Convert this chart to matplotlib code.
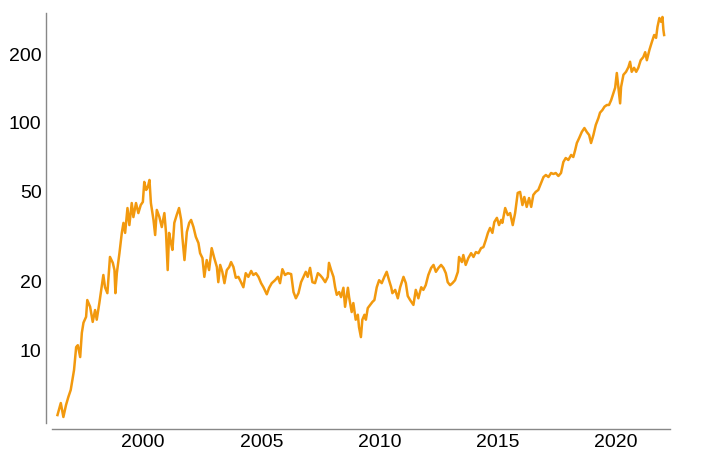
import matplotlib
matplotlib.use("Agg")
import matplotlib.pyplot as plt
from matplotlib.ticker import FixedLocator, FixedFormatter, NullLocator

plt.rcParams['font.family'] = ['Liberation Sans', 'DejaVu Sans']

years = [
    1996.38, 1996.52, 1996.63, 1996.74, 1996.84, 1996.94, 1997.03, 1997.08, 1997.17, 1997.24,
    1997.34, 1997.41, 1997.48, 1997.59, 1997.64, 1997.76, 1997.87, 1997.97, 1998.04, 1998.15,
    1998.21, 1998.32, 1998.39, 1998.49, 1998.60, 1998.72, 1998.79, 1998.83, 1998.89, 1999.00,
    1999.10, 1999.17, 1999.24, 1999.34, 1999.42, 1999.52, 1999.59, 1999.70, 1999.80, 1999.90,
    1999.99, 2000.05, 2000.13, 2000.20, 2000.27, 2000.33, 2000.44, 2000.51, 2000.58, 2000.69,
    2000.79, 2000.90, 2000.97, 2001.04, 2001.10, 2001.18, 2001.24, 2001.32, 2001.42, 2001.52,
    2001.61, 2001.66, 2001.75, 2001.85, 2001.95, 2002.03, 2002.13, 2002.23, 2002.34, 2002.41,
    2002.51, 2002.59, 2002.69, 2002.79, 2002.90, 2003.01, 2003.12, 2003.18, 2003.26, 2003.35,
    2003.44, 2003.54, 2003.64, 2003.72, 2003.82, 2003.92, 2004.03, 2004.14, 2004.24, 2004.34,
    2004.45, 2004.57, 2004.66, 2004.77, 2004.88, 2004.99, 2005.09, 2005.23, 2005.33, 2005.44,
    2005.58, 2005.70, 2005.79, 2005.89, 2006.00, 2006.12, 2006.26, 2006.36, 2006.46, 2006.57,
    2006.68, 2006.78, 2006.88, 2006.96, 2007.06, 2007.16, 2007.27, 2007.39, 2007.48, 2007.58,
    2007.70, 2007.81, 2007.86, 2007.95, 2008.05, 2008.12, 2008.19, 2008.29, 2008.37, 2008.47,
    2008.54, 2008.66, 2008.71, 2008.82, 2008.89, 2008.99, 2009.08, 2009.13, 2009.21, 2009.27,
    2009.36, 2009.42, 2009.50, 2009.60, 2009.70, 2009.78, 2009.88, 2009.98, 2010.09, 2010.20,
    2010.30, 2010.40, 2010.49, 2010.54, 2010.66, 2010.77, 2010.87, 2011.01, 2011.11, 2011.19,
    2011.29, 2011.43, 2011.53, 2011.64, 2011.76, 2011.85, 2011.95, 2012.06, 2012.18, 2012.28,
    2012.38, 2012.49, 2012.60, 2012.70, 2012.80, 2012.88, 2012.98, 2013.08, 2013.19, 2013.31,
    2013.36, 2013.48, 2013.54, 2013.64, 2013.75, 2013.87, 2013.97, 2014.07, 2014.18, 2014.29,
    2014.39, 2014.49, 2014.58, 2014.67, 2014.77, 2014.85, 2014.96, 2015.05, 2015.14, 2015.19,
    2015.31, 2015.42, 2015.52, 2015.63, 2015.73, 2015.84, 2015.94, 2016.04, 2016.12, 2016.22,
    2016.32, 2016.41, 2016.50, 2016.60, 2016.71, 2016.83, 2016.93, 2017.03, 2017.14, 2017.25,
    2017.35, 2017.45, 2017.56, 2017.67, 2017.77, 2017.87, 2017.98, 2018.10, 2018.19, 2018.27,
    2018.34, 2018.44, 2018.55, 2018.66, 2018.76, 2018.86, 2018.94, 2019.04, 2019.14, 2019.25,
    2019.32, 2019.42, 2019.51, 2019.61, 2019.70, 2019.79, 2019.89, 2019.96, 2020.03, 2020.10,
    2020.17, 2020.21, 2020.31, 2020.42, 2020.52, 2020.59, 2020.66, 2020.76, 2020.85, 2020.94,
    2021.04, 2021.15, 2021.23, 2021.30, 2021.41, 2021.51, 2021.61, 2021.69, 2021.75, 2021.83,
    2021.90, 2021.96, 2022.00, 2022.03,
]

price = [
    5.17, 5.84, 5.07, 5.72, 6.21, 6.67, 7.60, 8.16, 10.3, 10.5,
    9.31, 11.9, 13.2, 14.0, 16.6, 15.5, 13.3, 15.0, 13.6, 16.1,
    17.8, 21.4, 18.9, 17.8, 25.7, 24.2, 22.5, 17.8, 21.8, 26.7,
    32.8, 36.3, 32.8, 42.2, 35.5, 44.4, 38.5, 44.4, 40.1, 43.5,
    44.9, 55.0, 50.7, 52.2, 56.1, 44.4, 37.4, 32.1, 41.4, 38.5,
    34.8, 40.1, 32.8, 22.5, 32.8, 29.6, 27.6, 36.3, 39.3, 42.2,
    37.4, 31.5, 24.9, 33.1, 36.3, 37.4, 34.8, 31.5, 29.6, 26.7,
    25.4, 21.0, 24.9, 22.5, 28.1, 25.4, 23.2, 19.9, 23.7, 22.1,
    19.7, 22.5, 23.2, 24.4, 23.2, 20.8, 21.0, 19.9, 18.9, 21.8,
    21.0, 22.3, 21.4, 21.8, 21.0, 19.7, 18.9, 17.6, 18.8, 19.7,
    20.3, 21.0, 19.7, 22.7, 21.4, 21.8, 21.6, 18.0, 16.9, 17.8,
    19.9, 21.0, 22.1, 21.0, 23.0, 19.9, 19.7, 21.8, 21.4, 20.8,
    19.9, 21.0, 24.2, 22.5, 21.0, 18.9, 17.5, 18.0, 17.1, 18.8,
    15.5, 18.8, 17.1, 14.7, 16.1, 13.6, 14.3, 12.6, 11.4, 13.6,
    14.3, 13.6, 15.3, 15.8, 16.3, 16.6, 18.9, 20.3, 19.7, 21.0,
    22.1, 20.3, 18.9, 17.8, 18.4, 16.9, 18.9, 21.0, 19.7, 17.3,
    16.6, 15.8, 18.4, 16.9, 18.9, 18.4, 19.3, 21.4, 23.0, 23.7,
    22.1, 23.0, 23.7, 23.0, 21.8, 19.9, 19.3, 19.7, 20.3, 22.1,
    25.7, 24.4, 26.2, 23.7, 25.4, 26.7, 25.7, 27.0, 26.7, 28.1,
    28.4, 30.5, 32.8, 34.5, 32.8, 36.6, 38.2, 35.5, 37.4, 36.3,
    42.2, 39.3, 40.1, 35.5, 40.1, 49.2, 49.7, 43.5, 47.2, 42.7,
    46.7, 42.7, 48.2, 49.7, 50.7, 54.4, 57.8, 59.0, 57.8, 60.2,
    59.6, 60.2, 58.4, 60.2, 67.3, 70.1, 68.7, 72.3, 70.8, 76.0,
    81.6, 85.9, 91.3, 95.0, 91.3, 88.5, 81.6, 88.5, 98.0, 105,
    111, 114, 118, 120, 120, 126, 136, 143, 166, 143,
    122, 144, 163, 168, 176, 186, 168, 175, 168, 175,
    189, 195, 205, 189, 210, 227, 244, 237, 265, 290,
    279, 293, 257, 244,
]

x_ticks = [2000, 2005, 2010, 2015, 2020]
x_labels = ["2000", "2005", "2010", "2015", "2020"]
y_ticks = [10, 20, 50, 100, 200]
y_labels = ["10", "20", "50", "100", "200"]

fig = plt.figure(figsize=(7.07, 4.58), dpi=100)
ax = fig.add_axes([0.0736, 0.0764, 0.8741, 0.8952])

ax.plot(years, price, color="#F2990E", linewidth=1.8, solid_joinstyle="round")

ax.set_yscale("log")
ax.set_xlim(1996.15, 2022.28)
ax.set_ylim(4.77, 305)

ax.xaxis.set_major_locator(FixedLocator(x_ticks))
ax.xaxis.set_major_formatter(FixedFormatter(x_labels))
ax.xaxis.set_minor_locator(NullLocator())
ax.yaxis.set_major_locator(FixedLocator(y_ticks))
ax.yaxis.set_major_formatter(FixedFormatter(y_labels))
ax.yaxis.set_minor_locator(NullLocator())

ax.tick_params(axis="both", which="both", length=0, labelsize=14, labelcolor="black")
ax.tick_params(axis="x", pad=4)
ax.tick_params(axis="y", pad=3.5)

for side in ("top", "right"):
    ax.spines[side].set_visible(False)
for side in ("left", "bottom"):
    ax.spines[side].set_color("#888888")
    ax.spines[side].set_linewidth(1.0)
    ax.spines[side].set_position(("outward", 4))

fig.savefig("out.png", dpi=100)
